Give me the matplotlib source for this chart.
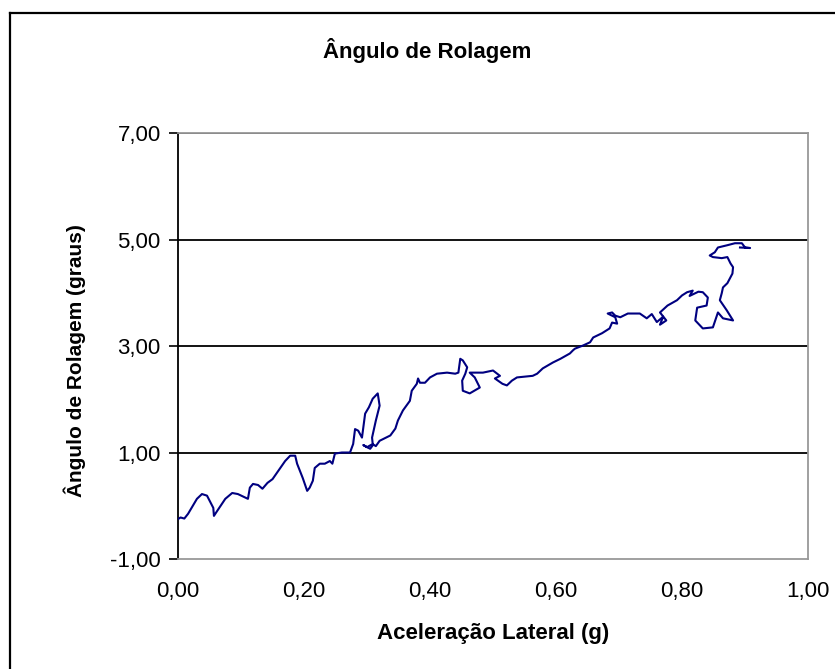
import matplotlib
matplotlib.use("Agg")
import matplotlib.pyplot as plt
from matplotlib.lines import Line2D
from matplotlib.ticker import FuncFormatter

plt.rcParams['font.family'] = ['Liberation Sans', 'DejaVu Sans']

# aceleração lateral (g) e ângulo de rolagem (graus)
accel = [0.000, 0.004, 0.010, 0.016, 0.030, 0.038, 0.046, 0.056, 0.057, 0.062,
         0.075, 0.086, 0.095, 0.111, 0.114, 0.119, 0.127, 0.134, 0.142, 0.150,
         0.157, 0.170, 0.178, 0.186, 0.189, 0.198, 0.205, 0.209, 0.214, 0.217,
         0.225, 0.233, 0.241, 0.245, 0.249, 0.260, 0.273, 0.278, 0.281, 0.286,
         0.292, 0.297, 0.303, 0.309, 0.317, 0.320, 0.314, 0.308, 0.309, 0.300,
         0.294, 0.305, 0.310, 0.314, 0.320, 0.337, 0.345, 0.349, 0.357, 0.368,
         0.371, 0.379, 0.381, 0.384, 0.392, 0.400, 0.411, 0.427, 0.440, 0.445,
         0.448, 0.452, 0.459, 0.456, 0.451, 0.452, 0.463, 0.479, 0.471, 0.463,
         0.484, 0.500, 0.511, 0.503, 0.515, 0.522, 0.530, 0.538, 0.554, 0.563,
         0.570, 0.579, 0.595, 0.607, 0.622, 0.627, 0.630, 0.643, 0.654, 0.659,
         0.673, 0.685, 0.689, 0.697, 0.694, 0.682, 0.689, 0.694, 0.702, 0.714,
         0.733, 0.744, 0.752, 0.760, 0.770, 0.765, 0.775, 0.765, 0.777, 0.792,
         0.800, 0.808, 0.817, 0.812, 0.826, 0.833, 0.841, 0.839, 0.824, 0.821,
         0.833, 0.849, 0.857, 0.865, 0.881, 0.871, 0.860, 0.863, 0.865, 0.872,
         0.880, 0.881, 0.877, 0.872, 0.863, 0.849, 0.844, 0.852, 0.857, 0.871,
         0.884, 0.895, 0.900, 0.908, 0.892]
roll = [-0.25, -0.22, -0.24, -0.15, 0.13, 0.22, 0.19, -0.04, -0.19, -0.10,
        0.13, 0.24, 0.22, 0.13, 0.34, 0.41, 0.39, 0.32, 0.43, 0.50,
        0.62, 0.84, 0.94, 0.94, 0.79, 0.52, 0.28, 0.34, 0.47, 0.71,
        0.79, 0.79, 0.84, 0.79, 0.98, 1.00, 1.00, 1.16, 1.44, 1.41,
        1.28, 1.73, 1.85, 2.01, 2.11, 1.88, 1.60, 1.28, 1.16, 1.10,
        1.14, 1.07, 1.15, 1.12, 1.22, 1.32, 1.45, 1.60, 1.79, 1.97,
        2.16, 2.29, 2.39, 2.31, 2.31, 2.41, 2.48, 2.50, 2.48, 2.50,
        2.76, 2.73, 2.60, 2.48, 2.35, 2.16, 2.11, 2.22, 2.41, 2.50,
        2.50, 2.54, 2.44, 2.39, 2.29, 2.26, 2.35, 2.41, 2.43, 2.44,
        2.48, 2.58, 2.69, 2.76, 2.86, 2.92, 2.95, 3.01, 3.07, 3.16,
        3.24, 3.33, 3.44, 3.42, 3.54, 3.61, 3.63, 3.57, 3.54, 3.61,
        3.61, 3.52, 3.60, 3.45, 3.55, 3.40, 3.48, 3.63, 3.76, 3.86,
        3.95, 4.01, 4.04, 3.94, 4.02, 4.01, 3.91, 3.76, 3.72, 3.48,
        3.33, 3.35, 3.63, 3.52, 3.48, 3.67, 3.86, 3.99, 4.10, 4.18,
        4.36, 4.48, 4.55, 4.67, 4.65, 4.67, 4.70, 4.76, 4.85, 4.89,
        4.93, 4.93, 4.85, 4.84, 4.85]

xticks = [0.0, 0.2, 0.4, 0.6, 0.8, 1.0]
yticks = [-1, 1, 3, 5, 7]

fig = plt.figure(figsize=(8.35, 6.69), dpi=100)
ax = fig.add_axes([0.2132, 0.1644, 0.7545, 0.6368])

for yv in yticks[1:]:
    ax.axhline(yv, color='black', lw=1.3, zorder=1)

ax.plot(accel, roll, color='#000080', lw=1.5, zorder=3)

ax.set_xlim(0, 1)
ax.set_ylim(-1, 7)
ax.set_xticks(xticks)
ax.set_yticks(yticks)
fmt = FuncFormatter(lambda v, p: f"{v:.2f}".replace('.', ','))
ax.xaxis.set_major_formatter(fmt)
ax.yaxis.set_major_formatter(fmt)
ax.tick_params(axis='x', length=0, pad=16, labelsize=16)
ax.tick_params(axis='y', direction='out', length=6.5, width=1.2, pad=6, labelsize=16)

for s in ['bottom', 'right', 'top']:
    ax.spines[s].set_color('#999999')
    ax.spines[s].set_linewidth(1.3)
ax.spines['left'].set_color('black')
ax.spines['left'].set_linewidth(1.3)

ax.set_xlabel('Aceleração Lateral (g)', fontsize=16, fontweight='bold')
ax.xaxis.set_label_coords(0.5, -0.150)
ax.set_ylabel('Ângulo de Rolagem (graus)', fontsize=15, fontweight='bold')
ax.yaxis.set_label_coords(-0.146, 0.467)

fig.text(0.512, 0.925, 'Ângulo de Rolagem', fontsize=16, fontweight='bold',
         ha='center', va='center')

# moldura externa do gráfico (cortada à direita e embaixo)
fx = 10 / 835
fy = 1 - 13 / 669
fig.add_artist(Line2D([fx, fx], [0, fy], color='black', lw=1.6, transform=fig.transFigure))
fig.add_artist(Line2D([fx, 1], [fy, fy], color='black', lw=1.6, transform=fig.transFigure))

fig.savefig('out.png', dpi=100)
